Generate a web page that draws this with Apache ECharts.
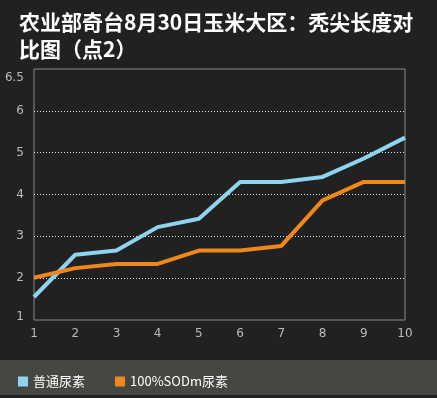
<!DOCTYPE html>
<html>
<head>
<meta charset="utf-8">
<script src="https://cdn.jsdelivr.net/npm/echarts@6/dist/echarts.min.js"></script>
<style>
html,body{margin:0;padding:0;background:#212121;}
#main{width:437px;height:398px;}
</style>
</head>
<body>
<div id="main"></div>
<script>
const categories = ['1','2','3','4','5','6','7','8','9','10'];
const seriesNames = ['普通尿素', '100%SODm尿素'];
const normalUrea = [1.55, 2.56, 2.66, 3.22, 3.42, 4.30, 4.30, 4.42, 4.86, 5.36];
const sodmUrea = [2.01, 2.24, 2.34, 2.34, 2.66, 2.66, 2.77, 3.86, 4.30, 4.30];
const yTickLabels = {1:'1',2:'2',3:'3',4:'4',5:'5',6:'6',7:'6.5'};

const chart = echarts.init(document.getElementById('main'));
chart.setOption({
  backgroundColor: '#212121',
  animation: false,
  title: {
    text: '农业部奇台8月30日玉米大区：秃尖长度对\n比图（点2）',
    left: 14, top: 4,
    textStyle: {color: '#ffffff', fontSize: 21, fontWeight: 'bold', lineHeight: 27,
      fontFamily: '"Noto Sans CJK SC", sans-serif'}
  },
  graphic: [{
    type: 'rect', left: 0, top: 360, z: -1,
    shape: {width: 437, height: 35},
    style: {fill: '#454743'}
  }],
  legend: {
    data: seriesNames,
    left: 13, top: 370,
    itemWidth: 10, itemHeight: 10, itemGap: 30,
    icon: 'rect',
    textStyle: {color: '#ffffff', fontSize: 13, fontFamily: '"Noto Sans CJK SC", sans-serif'}
  },
  grid: {left: 34, right: 32, top: 69, bottom: 78, show: true, borderColor: '#8a8a8a', borderWidth: 1, containLabel: false},
  xAxis: {
    type: 'category', data: categories, boundaryGap: false,
    axisLine: {show: false}, axisTick: {show: false},
    axisLabel: {color: '#bbbbbb', fontSize: 12, margin: 8, fontFamily: 'DejaVu Sans'},
    splitLine: {show: false}
  },
  yAxis: {
    type: 'value', min: 1, max: 7, interval: 1,
    axisLine: {show: false}, axisTick: {show: false},
    axisLabel: {
      color: '#bbbbbb', fontSize: 12, margin: 10, fontFamily: 'DejaVu Sans',
      formatter: v => v === 7 ? '{top|' + yTickLabels[v] + '}' : (v === 1 ? '{bot|' + yTickLabels[v] + '}' : yTickLabels[v]),
      rich: {
        top: {color: '#bbbbbb', fontSize: 12, fontFamily: 'DejaVu Sans', padding: [17, 0, 0, 0]},
        bot: {color: '#bbbbbb', fontSize: 12, fontFamily: 'DejaVu Sans', padding: [0, 0, 6, 0]}
      }
    },
    splitLine: {
      show: true,
      lineStyle: {color: ['transparent', '#e0e0e0', '#e0e0e0', '#e0e0e0', '#e0e0e0', '#e0e0e0', 'transparent'], type: [1, 2], width: 1}
    }
  },
  series: [
    {name: seriesNames[0], type: 'line', data: normalUrea, symbol: 'none',
     lineStyle: {color: '#8fd4ef', width: 4}, itemStyle: {color: '#8fd4ef'}},
    {name: seriesNames[1], type: 'line', data: sodmUrea, symbol: 'none',
     lineStyle: {color: '#f0871b', width: 4}, itemStyle: {color: '#f0871b'}}
  ]
});
</script>
</body>
</html>
